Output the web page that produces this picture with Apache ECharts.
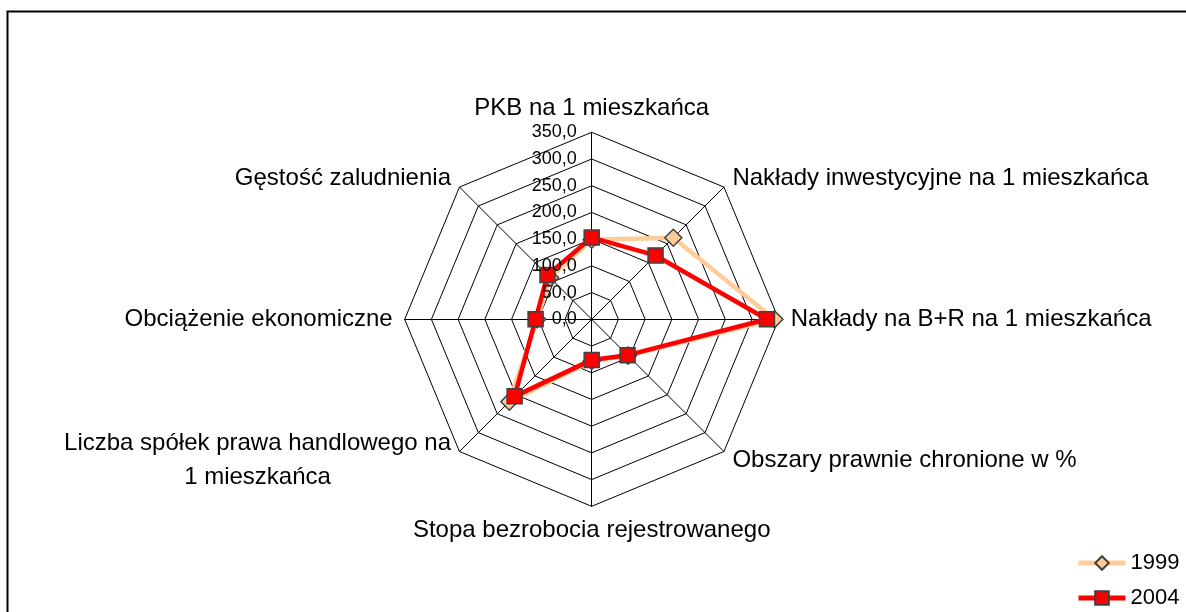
<!DOCTYPE html>
<html>
<head>
<meta charset="utf-8">
<script src="https://cdn.jsdelivr.net/npm/echarts@6/dist/echarts.min.js"></script>
<style>
html,body{margin:0;padding:0;background:#fff;}
#chart{width:1186px;height:612px;}
</style>
</head>
<body>
<div id="chart"></div>
<script>
// Categories in clockwise order starting at the top
var categories = [
  'PKB na 1 mieszkańca',
  'Nakłady inwestycyjne na 1 mieszkańca',
  'Nakłady na B+R na 1 mieszkańca',
  'Obszary prawnie chronione w %',
  'Stopa bezrobocia rejestrowanego',
  'Liczba spółek prawa handlowego na\n1 mieszkańca',
  'Obciążenie ekonomiczne',
  'Gęstość zaludnienia'
];
var values1999 = [149, 216, 342, 96, 78, 218, 102, 110];
var values2004 = [153, 169, 328, 95, 76, 204, 105, 117];
var seriesNames = ['1999', '2004'];
var tickLabels = ['0,0', '50,0', '100,0', '150,0', '200,0', '250,0', '300,0', '350,0'];

var FONT = 'Liberation Sans, Arial, sans-serif';
var CENTER = [591.7, 319.3];
var RADIUS = 187;
var MAXV = 350;

// ECharts radar runs counter-clockwise; reorder so the picture runs clockwise
var order = [0];
for (var i = categories.length - 1; i >= 1; i--) order.push(i);
function reorder(arr) { return order.map(function (k) { return arr[k]; }); }

var chart = echarts.init(document.getElementById('chart'), null, {renderer: 'canvas'});

var c1999 = '#FFCC99', c2004 = '#FF0000', markBorder = '#404040';

var option = {
  animation: false,
  backgroundColor: '#fff',
  graphic: [{
    type: 'rect', z: 100, silent: true,
    shape: {x: 7.5, y: 11.5, width: 1250, height: 700},
    style: {fill: 'none', stroke: '#000', lineWidth: 2}
  }],
  radar: {
    center: CENTER,
    radius: RADIUS,
    startAngle: 90,
    shape: 'polygon',
    splitNumber: 7,
    nameGap: 12,
    indicator: reorder(categories).map(function (n) { return {name: n, min: 0, max: MAXV}; }),
    axisName: {
      color: '#000', fontSize: 24, fontFamily: FONT,
      formatter: function (name) {
        if (name.indexOf('\n') >= 0) {
          return name.split('\n').map(function (s) { return '{c|' + s + '}'; }).join('\n');
        }
        return name;
      },
      rich: {c: {align: 'center', color: '#000', fontSize: 24, fontFamily: FONT, lineHeight: 34}}
    },
    splitLine: {lineStyle: {color: '#000', width: 1}},
    splitArea: {show: false},
    axisLine: {lineStyle: {color: '#000', width: 1}},
    axisTick: {show: false},
    axisLabel: {show: false}
  },
  polar: {center: CENTER, radius: RADIUS},
  angleAxis: {show: false, startAngle: 90, min: 0, max: 360},
  radiusAxis: {
    min: 0, max: MAXV, interval: 50,
    axisLine: {show: false}, axisTick: {show: false}, splitLine: {show: false},
    axisLabel: {
      show: true, margin: 15, color: '#000', fontSize: 18, fontFamily: FONT,
      formatter: function (v) { return tickLabels[Math.round(v / 50)]; }
    },
    z: 5
  },
  legend: {
    orient: 'vertical',
    left: 1076, top: 552, padding: 0,
    itemWidth: 47, itemHeight: 17, itemGap: 13,
    textStyle: {color: '#000', fontSize: 22, fontFamily: FONT},
    data: [
      {name: seriesNames[0], lineStyle: {width: 5, color: c1999}},
      {name: seriesNames[1], lineStyle: {width: 5, color: c2004}}
    ]
  },
  series: [
    {
      type: 'radar',
      name: 'radar',
      z: 3,
      data: [
        {
          name: seriesNames[0] + ' ',
          value: reorder(values1999),
          symbol: 'diamond', symbolSize: 17,
          lineStyle: {color: c1999, width: 4.5},
          itemStyle: {color: c1999, borderColor: markBorder, borderWidth: 1.5}
        },
        {
          name: seriesNames[1] + ' ',
          value: reorder(values2004),
          symbol: 'rect', symbolSize: 15,
          lineStyle: {color: c2004, width: 4.5},
          itemStyle: {color: c2004, borderColor: markBorder, borderWidth: 1.5}
        }
      ]
    },
    {
      type: 'line', name: seriesNames[0], coordinateSystem: 'polar', data: [],
      symbol: 'diamond', symbolSize: 16,
      lineStyle: {color: c1999, width: 5},
      itemStyle: {color: c1999, borderColor: markBorder, borderWidth: 1.5}
    },
    {
      type: 'line', name: seriesNames[1], coordinateSystem: 'polar', data: [],
      symbol: 'rect', symbolSize: 14,
      lineStyle: {color: c2004, width: 5},
      itemStyle: {color: c2004, borderColor: markBorder, borderWidth: 1.5}
    }
  ]
};
chart.setOption(option);
</script>
</body>
</html>
